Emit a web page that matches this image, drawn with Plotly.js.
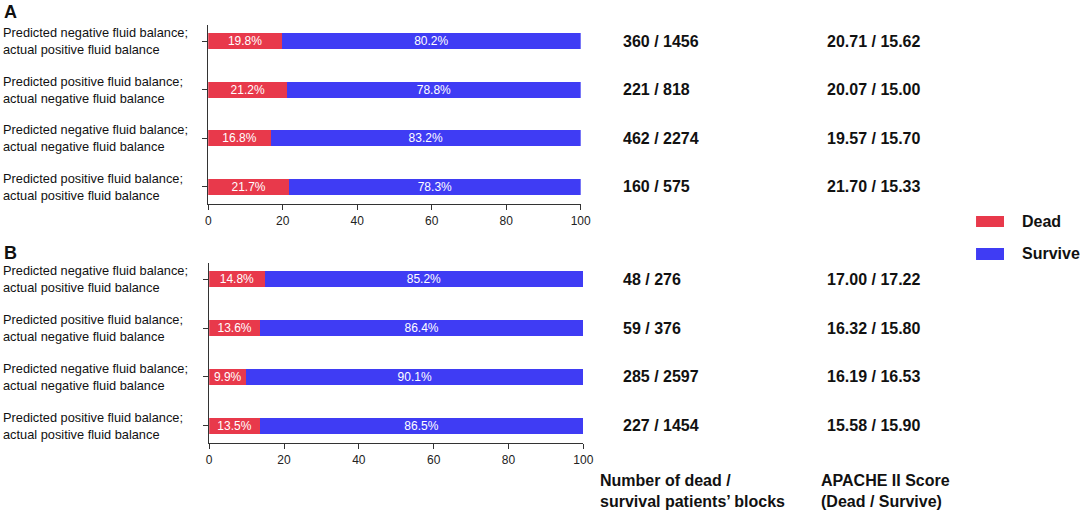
<!DOCTYPE html>
<html>
<head>
<meta charset="utf-8">
<script src="https://cdn.plot.ly/plotly-3.0.1.min.js"></script>
<style>
  html, body { margin: 0; padding: 0; background: #fff; }
  #chart { width: 1084px; height: 513px; }
</style>
</head>
<body>
<div id="chart"></div>
<script>
// group labels, same four groups in both panels
const groupLabels = [
  'Predicted negative fluid balance;<br>actual positive fluid balance',
  'Predicted positive fluid balance;<br>actual negative fluid balance',
  'Predicted negative fluid balance;<br>actual negative fluid balance',
  'Predicted positive fluid balance;<br>actual positive fluid balance'
];

// panel A
const deadA = [19.8, 21.2, 16.8, 21.7];
const surviveA = [80.2, 78.8, 83.2, 78.3];
const countsA = ['360 / 1456', '221 / 818', '462 / 2274', '160 / 575'];
const apacheA = ['20.71 / 15.62', '20.07 / 15.00', '19.57 / 15.70', '21.70 / 15.33'];

// panel B
const deadB = [14.8, 13.6, 9.9, 13.5];
const surviveB = [85.2, 86.4, 90.1, 86.5];
const countsB = ['48 / 276', '59 / 376', '285 / 2597', '227 / 1454'];
const apacheB = ['17.00 / 17.22', '16.32 / 15.80', '16.19 / 16.53', '15.58 / 15.90'];

const seriesNames = ['Dead', 'Survive'];
const seriesColors = ['#E8394B', '#3F3CF4'];
const xTicks = [0, 20, 40, 60, 80, 100];
const panelNames = ['A', 'B'];
const colHeaders = ['Number of dead /<br>survival patients\u2019 blocks', 'APACHE II Score<br>(Dead / Survive)'];

const FONT = 'Arial, "Liberation Sans", sans-serif';
const pct = v => v.toFixed(1) + '%';

function barTrace(vals, idx, xa, ya) {
  return {
    type: 'bar',
    orientation: 'h',
    x: vals,
    y: groupLabels,
    xaxis: xa,
    yaxis: ya,
    name: seriesNames[idx],
    width: 0.33,
    marker: { color: seriesColors[idx], line: { width: 0 } },
    text: vals.map(pct),
    textposition: 'inside',
    insidetextanchor: 'middle',
    constraintext: 'none',
    textfont: { color: '#fff', size: 12, family: FONT },
    hoverinfo: 'x+name',
    showlegend: false
  };
}

const data = [
  barTrace(deadA, 0, 'x', 'y'),
  barTrace(surviveA, 1, 'x', 'y'),
  barTrace(deadB, 0, 'x2', 'y2'),
  barTrace(surviveB, 1, 'x2', 'y2')
];

const xBase = {
  range: [0, 100],
  tickvals: xTicks,
  ticks: 'outside',
  ticklen: 5,
  tickwidth: 1.3,
  tickcolor: '#333',
  showline: true,
  linecolor: '#333',
  linewidth: 1.3,
  showgrid: false,
  zeroline: false,
  fixedrange: true,
  tickfont: { size: 12, color: '#222', family: FONT }
};
const yBase = {
  type: 'category',
  range: [3.35, -0.33],
  ticks: 'outside',
  ticklen: 5,
  tickwidth: 1.3,
  tickcolor: '#333',
  showline: true,
  linecolor: '#333',
  linewidth: 1.3,
  showgrid: false,
  zeroline: false,
  showticklabels: false,
  fixedrange: true
};

const annotations = [];
const panels = [
  { ya: 'y', counts: countsA, apache: apacheA, labelY: 0.9766 },
  { ya: 'y2', counts: countsB, apache: apacheB, labelY: 0.5068 }
];
panels.forEach((p, pi) => {
  annotations.push({
    xref: 'paper', yref: 'paper', x: 0.002, y: p.labelY,
    xanchor: 'left', yanchor: 'middle', showarrow: false,
    text: '<b>' + panelNames[pi] + '</b>',
    font: { size: 18, color: '#111', family: FONT }
  });
  groupLabels.forEach((g, i) => {
    annotations.push({
      xref: 'paper', yref: p.ya, x: 0.0012, y: g,
      xanchor: 'left', yanchor: 'middle', align: 'left', showarrow: false,
      text: g, font: { size: 12.8, color: '#111', family: FONT }
    });
    annotations.push({
      xref: 'paper', yref: p.ya, x: 0.5725, y: g,
      xanchor: 'left', yanchor: 'middle', showarrow: false,
      text: '<b>' + p.counts[i] + '</b>', font: { size: 16, color: '#111', family: FONT }
    });
    annotations.push({
      xref: 'paper', yref: p.ya, x: 0.7615, y: g,
      xanchor: 'left', yanchor: 'middle', showarrow: false,
      text: '<b>' + p.apache[i] + '</b>', font: { size: 16, color: '#111', family: FONT }
    });
  });
});

// column headers under panel B
[0.5515, 0.7555].forEach((x, i) => {
  annotations.push({
    xref: 'paper', yref: 'paper', x: x, y: 0.043,
    xanchor: 'left', yanchor: 'middle', align: 'left', showarrow: false,
    text: '<b>' + colHeaders[i] + '</b>', font: { size: 16, color: '#111', family: FONT }
  });
});

// legend drawn by hand: wide flat swatches
const shapes = [];
const legendY = [[0.5575, 0.5789], [0.4932, 0.5166]];
seriesNames.forEach((n, i) => {
  shapes.push({
    type: 'rect', xref: 'paper', yref: 'paper',
    x0: 0.9004, x1: 0.9262, y0: legendY[i][0], y1: legendY[i][1],
    fillcolor: seriesColors[i], line: { width: 0 }
  });
  annotations.push({
    xref: 'paper', yref: 'paper', x: 0.941, y: (legendY[i][0] + legendY[i][1]) / 2,
    xanchor: 'left', yanchor: 'middle', showarrow: false,
    text: '<b>' + n + '</b>', font: { size: 16, color: '#111', family: FONT }
  });
});

const layout = {
  width: 1084,
  height: 513,
  margin: { l: 0, r: 0, t: 0, b: 0 },
  paper_bgcolor: '#fff',
  plot_bgcolor: '#fff',
  barmode: 'stack',
  showlegend: false,
  font: { family: FONT, color: '#111' },
  xaxis: Object.assign({}, xBase, { domain: [0.1921, 0.5357], anchor: 'y' }),
  yaxis: Object.assign({}, yBase, { domain: [0.6023, 0.9513], anchor: 'x' }),
  xaxis2: Object.assign({}, xBase, { domain: [0.1930, 0.5381], anchor: 'y2' }),
  yaxis2: Object.assign({}, yBase, { domain: [0.1365, 0.4873], anchor: 'x2' }),
  annotations: annotations,
  shapes: shapes
};

Plotly.newPlot('chart', data, layout, { displayModeBar: false, responsive: false });
</script>
</body>
</html>
